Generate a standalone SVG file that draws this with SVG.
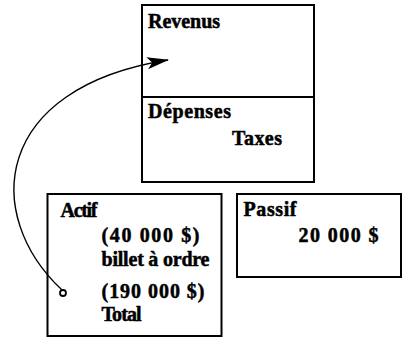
<svg xmlns="http://www.w3.org/2000/svg" width="403" height="338" viewBox="0 0 403 338">
<style>
.box{fill:none;stroke:#000;stroke-width:2}
.t{font-family:"Liberation Serif","Times New Roman",serif;font-weight:bold;font-size:20px;fill:#000;stroke:#000;stroke-width:0.5}
.c{fill:none;stroke:#000;stroke-width:1.4}
</style>
<defs>
<marker id="ah" viewBox="0 0 22 12" refX="21" refY="6" markerWidth="22" markerHeight="12" markerUnits="userSpaceOnUse" orient="auto">
<path d="M0,0 L22,6 L0,12 L5,6 Z" fill="#000"/>
</marker>
</defs>
<rect width="403" height="338" fill="#fff"/>
<g id="revenus-depenses">
<rect class="box" x="142" y="5" width="172" height="177"/>
<line class="box" x1="142" y1="97" x2="314" y2="97"/>
<text class="t" x="148" y="28" textLength="72" lengthAdjust="spacing">Revenus</text>
<text class="t" x="148" y="118" textLength="83" lengthAdjust="spacing">Dépenses</text>
<text class="t" x="232" y="145" textLength="50" lengthAdjust="spacing">Taxes</text>
</g>
<g id="actif">
<rect class="box" x="47.5" y="194" width="174" height="142"/>
<text class="t" x="60.5" y="217" textLength="37" lengthAdjust="spacing">Actif</text>
<text class="t" x="101.5" y="242" textLength="98" lengthAdjust="spacing">(40 000 $)</text>
<text class="t" x="101.5" y="266" textLength="108" lengthAdjust="spacing">billet à ordre</text>
<text class="t" x="101.5" y="298" textLength="103" lengthAdjust="spacing">(190 000 $)</text>
<text class="t" x="101.5" y="321" textLength="40" lengthAdjust="spacing">Total</text>
</g>
<g id="passif">
<rect class="box" x="237" y="194" width="164" height="83"/>
<text class="t" x="243.5" y="216" textLength="53" lengthAdjust="spacing">Passif</text>
<text class="t" x="298.5" y="242" textLength="80" lengthAdjust="spacing">20 000 $</text>
</g>
<g id="connectors">
<path class="c" d="M62,290 C-18,215 -8,88 168,60" marker-end="url(#ah)"/>
<circle cx="63" cy="293" r="3" fill="#fff" stroke="#000" stroke-width="1.8"/>
</g>
</svg>
